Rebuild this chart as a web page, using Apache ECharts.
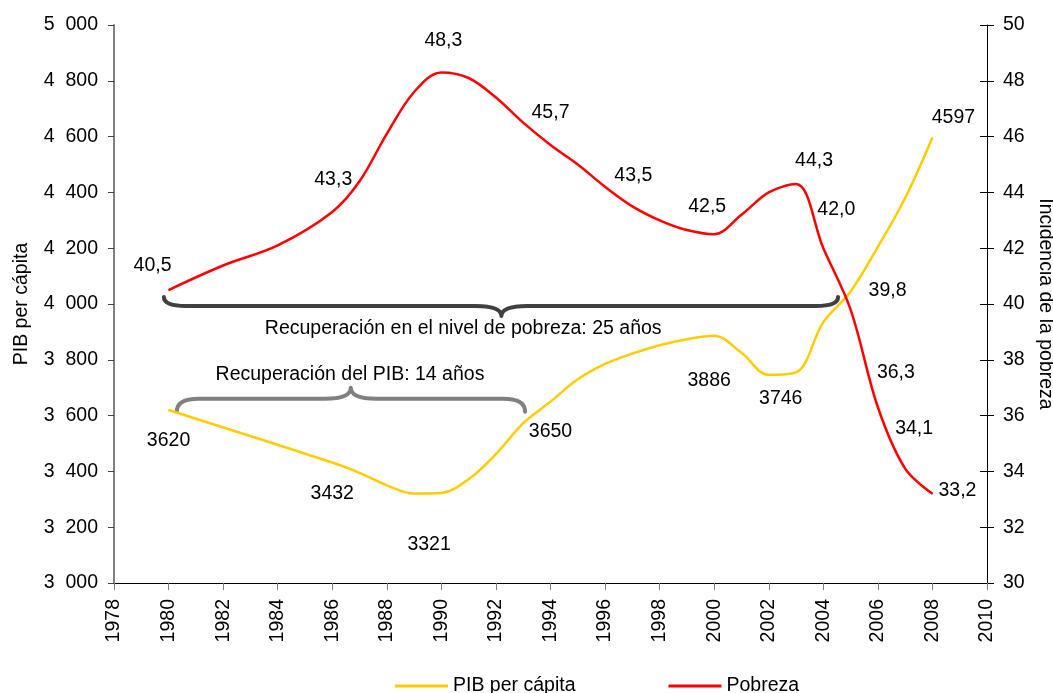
<!DOCTYPE html>
<html>
<head>
<meta charset="utf-8">
<script src="https://cdn.jsdelivr.net/npm/echarts@6/dist/echarts.min.js"></script>
<style>
html,body{margin:0;padding:0;background:#fff;}
#chart{width:1053px;height:693px;}
</style>
</head>
<body>
<div id="chart"></div>
<script>
// ---- Data ----
const pibYears  = [1980, 1986, 1987, 1988, 1989, 1990, 1991, 1992, 1993, 1994, 1995, 1996, 1997, 1998, 1999, 2000, 2001, 2002, 2003, 2004, 2005, 2006, 2007, 2008];
const pibValues = [3620, 3432, 3395, 3350, 3321, 3323, 3372, 3462, 3573, 3650, 3730, 3785, 3822, 3852, 3874, 3886, 3825, 3746, 3755, 3935, 4045, 4205, 4380, 4597];
const povYears  = [1980, 1982, 1984, 1986, 1987, 1988, 1989, 1990, 1991, 1992, 1993, 1994, 1995, 1996, 1997, 1998, 1999, 2000, 2001, 2002, 2003, 2004, 2005, 2006, 2007, 2008];
const povValues = [40.5, 41.38, 42.1, 43.3, 44.4, 46.1, 47.6, 48.3, 48.1, 47.4, 46.5, 45.7, 45.0, 44.2, 43.5, 43.0, 42.65, 42.5, 43.2, 44.0, 44.3, 42.0, 39.8, 36.3, 34.1, 33.2];

const pibLabelYears = [1980, 1986, 1989, 1994, 2000, 2002, 2008];
const povLabelYears = [1980, 1986, 1990, 1994, 1997, 2000, 2003, 2004, 2005, 2006, 2007, 2008];

const seriesNames = ['PIB per cápita', 'Pobreza'];
const axisNames = ['PIB per cápita', 'Incidencia de la pobreza'];

// Brace annotations (data coordinates)
const braceFrom  = [1979.83, 1980.3];
const braceTo    = [2004.54, 1993.07];
const braceTip   = [1992.2, 1986.68];
const braceLevel = [3993, 3660];
const braceText  = ['Recuperación en el nivel de pobreza: 25 años', 'Recuperación del PIB: 14 años'];
const braceTextX = [1990.8, 1986.65];
const braceTextY = [3910, 3746];

// ---- Styles ----
const FONT = "'Liberation Sans', Arial, sans-serif";
const FS = 19.5;
const pibLabelOffsets = [[0,31],[0,31],[15,51],[0,30],[-5,45],[12,24],[21,-20]];
const povLabelOffsets = [[-16,-24],[1,-32],[2,-32],[0,-32],[1,-31],[-7,-28],[18,-23],[13,-39],[37,-19],[18,-35],[9,-40],[25,-3]];
const braceStyle = [
  {dir: 1, color: '#404040', endAmp: 9, tipAmp: 10},
  {dir: -1, color: '#808080', endAmp: 13, tipAmp: 11}
];

function buildData(years, values, labelYears, offsets) {
  return years.map((y, i) => {
    const item = {value: [y, values[i]]};
    const k = labelYears.indexOf(y);
    if (k >= 0) item.label = {show: true, offset: offsets[k]};
    return item;
  });
}

const chart = echarts.init(document.getElementById('chart'), null, {renderer: 'canvas'});

const labelBase = {
  show: false, position: 'inside', color: '#000', fontSize: FS, fontFamily: FONT,
  align: 'center', verticalAlign: 'middle'
};

const option = {
  backgroundColor: '#fff',
  animation: false,
  textStyle: {fontFamily: FONT},
  grid: {left: 114, right: 66, top: 25, bottom: 110, containLabel: false, outerBoundsMode: 'none'},
  legend: {
    data: [{name: seriesNames[0], icon: 'rect'}, {name: seriesNames[1], icon: 'rect'}],
    left: 390, top: 671, itemWidth: 53, itemHeight: 3, itemGap: 93,
    textStyle: {fontSize: FS, color: '#000', fontFamily: FONT}
  },
  xAxis: {
    type: 'value', min: 1978, max: 2010, interval: 2,
    axisLine: {show: true, onZero: false, lineStyle: {color: '#000', width: 1}},
    axisTick: {show: true, length: 7, lineStyle: {color: '#808080'}},
    axisLabel: {rotate: 90, margin: 16, fontSize: FS, color: '#000', fontFamily: FONT, formatter: v => String(v)},
    splitLine: {show: false}
  },
  yAxis: [
    {
      type: 'value', min: 3000, max: 5000, interval: 200, position: 'left',
      name: axisNames[0], nameLocation: 'middle', nameGap: 82, nameRotate: 90,
      nameTextStyle: {fontSize: FS, color: '#000', fontFamily: FONT},
      axisLine: {show: true, lineStyle: {color: '#808080', width: 2}},
      axisTick: {show: true, length: 6, lineStyle: {color: '#404040'}},
      axisLabel: {margin: 16, fontSize: FS, color: '#000', fontFamily: FONT,
        formatter: v => Math.floor(v / 1000) + '  ' + String(v % 1000).padStart(3, '0')},
      splitLine: {show: false}
    },
    {
      type: 'value', min: 30, max: 50, interval: 2, position: 'right',
      name: axisNames[1], nameLocation: 'middle', nameGap: 46, nameRotate: -90,
      nameTextStyle: {fontSize: FS, color: '#000', fontFamily: FONT},
      axisLine: {show: true, lineStyle: {color: '#000', width: 1}},
      axisTick: {show: true, length: 7, lineStyle: {color: '#000'}},
      axisLabel: {margin: 16, fontSize: FS, color: '#000', fontFamily: FONT},
      splitLine: {show: false}
    },
    {
      type: 'value', min: 30, max: 50, interval: 2, position: 'right',
      axisLine: {show: false},
      axisTick: {show: true, inside: true, length: 7, lineStyle: {color: '#000'}},
      axisLabel: {show: false},
      splitLine: {show: false}
    }
  ],
  series: [
    {
      type: 'custom', name: 'braces', xAxisIndex: 0, yAxisIndex: 0, silent: true, z: 1,
      clip: false,
      data: braceFrom.map((f, i) => [f, braceLevel[i]]),
      renderItem: function (params, api) {
        const i = params.dataIndex;
        const st = braceStyle[i];
        const p0 = api.coord([braceFrom[i], braceLevel[i]]);
        const p1 = api.coord([braceTo[i], braceLevel[i]]);
        const pt = api.coord([braceTip[i], braceLevel[i]]);
        const tp = api.coord([braceTextX[i], braceTextY[i]]);
        const y = p0[1], d = st.dir, a = st.endAmp, t = st.tipAmp;
        const r = 22, r2 = 26;
        const path =
          'M' + p0[0] + ',' + (y - d * a) +
          ' Q' + p0[0] + ',' + y + ' ' + (p0[0] + r) + ',' + y +
          ' L' + (pt[0] - r2) + ',' + y +
          ' Q' + pt[0] + ',' + y + ' ' + pt[0] + ',' + (y + d * t) +
          ' Q' + pt[0] + ',' + y + ' ' + (pt[0] + r2) + ',' + y +
          ' L' + (p1[0] - r) + ',' + y +
          ' Q' + p1[0] + ',' + y + ' ' + p1[0] + ',' + (y - d * a);
        return {
          type: 'group',
          children: [
            {type: 'path', shape: {pathData: path},
             style: {stroke: st.color, lineWidth: 4, fill: null, lineCap: 'round', lineJoin: 'round'}},
            {type: 'text', x: tp[0], y: tp[1],
             style: {text: braceText[i], fill: '#000', fontSize: FS, fontFamily: FONT, align: 'center', verticalAlign: 'middle'}}
          ]
        };
      }
    },
    {
      type: 'line', name: seriesNames[0], xAxisIndex: 0, yAxisIndex: 0, z: 3,
      data: buildData(pibYears, pibValues, pibLabelYears, pibLabelOffsets),
      smooth: 0.35, showSymbol: true, symbol: 'circle', symbolSize: 1,
      color: '#FFCC00',
      itemStyle: {color: '#FFCC00'},
      lineStyle: {color: '#FFCC00', width: 2.5},
      label: Object.assign({}, labelBase, {formatter: p => String(p.value[1])}),
      emphasis: {disabled: true}
    },
    {
      type: 'line', name: seriesNames[1], xAxisIndex: 0, yAxisIndex: 1, z: 3,
      data: buildData(povYears, povValues, povLabelYears, povLabelOffsets),
      smooth: 0.35, showSymbol: true, symbol: 'circle', symbolSize: 1,
      color: '#FF0000',
      itemStyle: {color: '#FF0000'},
      lineStyle: {color: '#FF0000', width: 2.5},
      label: Object.assign({}, labelBase, {formatter: p => p.value[1].toFixed(1).replace('.', ',')}),
      emphasis: {disabled: true}
    }
  ]
};
chart.setOption(option);
</script>
</body>
</html>
